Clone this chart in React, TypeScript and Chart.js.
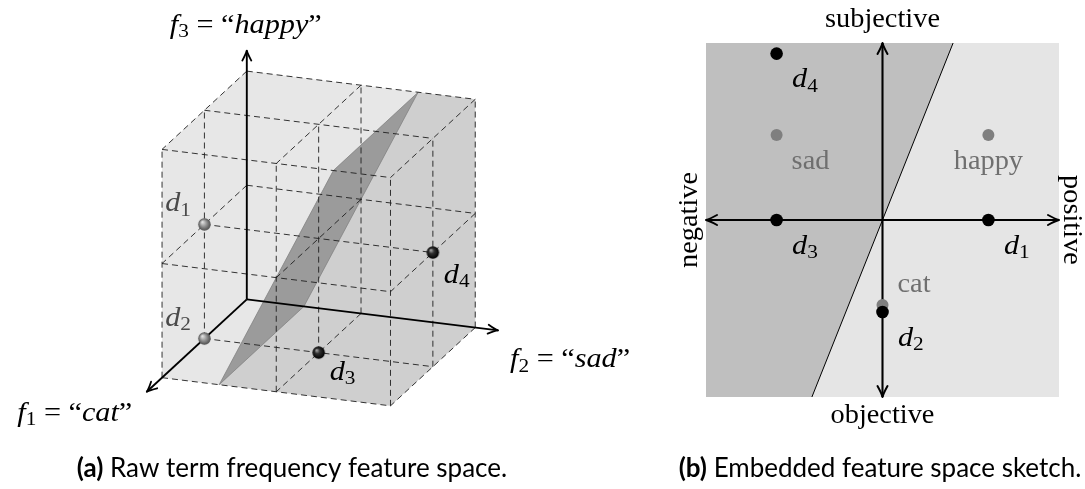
import React, { useEffect, useRef } from 'react';
import { Chart, registerables } from 'chart.js';

Chart.register(...registerables);

// ---------- (a) raw term-frequency space ----------
// documents as term counts: f1 = "cat", f2 = "sad", f3 = "happy"
const DOC_LABELS = ['1', '2', '3', '4'];
const DOC_CAT = [1, 1, 1, 1];
const DOC_SAD = [0, 0, 1, 2];
const DOC_HAPPY = [1, 0, 0, 1];
const DOC_SHADE = ['gray', 'gray', 'black', 'black'];

const CUBE_TICKS = [0, 1, 2];
const CUBE_MAX = 2;
const AXIS_CAT_END = 2.36;
const AXIS_SAD_END = 2.2;
const AXIS_HAPPY_END = 2.18;

// separating plane, corners as (cat, sad, happy)
const PLANE_CAT = [0, 2, 2, 0];
const PLANE_SAD = [0.5, 0.5, 1.5, 1.5];
const PLANE_HAPPY = [0, 0, 2, 2];

// ---------- (b) embedded space ----------
const WORD_LABELS = ['sad', 'happy', 'cat'];
const WORD_X = [-3, 3, 0];
const WORD_Y = [2.4, 2.4, -2.4];
const EMB_DOC_LABELS = ['1', '2', '3', '4'];
const EMB_DOC_X = [3, 0, -3, -3];
const EMB_DOC_Y = [0, -2.6, 0, 4.7];
const EMB_RANGE = 5;
const BOUNDARY_X = [-2, 2];
const BOUNDARY_Y = [-5, 5];

const SERIF = '"Liberation Serif", "Times New Roman", serif';
const SANS = 'Lato, "Open Sans", sans-serif';

// oblique view: screen offset (px, y up) of one unit along each term axis
const VIEW = { cat: [-43.3, -40.3], sad: [116.7, -14.5], happy: [0, 117.5] };
const proj = (c: number, s: number, h: number) => ({
  x: c * VIEW.cat[0] + s * VIEW.sad[0] + h * VIEW.happy[0],
  y: c * VIEW.cat[1] + s * VIEW.sad[1] + h * VIEW.happy[1],
});

type Run = [string, 'it' | 'rm' | 'sub' | 'bf'];

function runFont(kind: string, size: number, family: string) {
  if (kind === 'it') return `italic ${size}px ${family}`;
  if (kind === 'sub') return `${Math.round(size * 0.7)}px ${family}`;
  if (kind === 'bf') return `bold ${size}px ${family}`;
  return `${size}px ${family}`;
}

// draws a line of mixed italic / roman / subscript text, stretched horizontally by `wide`
function drawRuns(
  ctx: CanvasRenderingContext2D,
  runs: Run[],
  x: number,
  y: number,
  align: 'left' | 'center' | 'right',
  size: number,
  color: string,
  family = SERIF,
  wide = 1,
) {
  ctx.save();
  ctx.fillStyle = color;
  ctx.textBaseline = 'alphabetic';
  ctx.textAlign = 'left';
  const widths = runs.map(([t, k]) => {
    ctx.font = runFont(k, size, family);
    return ctx.measureText(t).width * wide;
  });
  const total = widths.reduce((a, b) => a + b, 0);
  let cx = align === 'center' ? x - total / 2 : align === 'right' ? x - total : x;
  runs.forEach(([t, k], i) => {
    ctx.font = runFont(k, size, family);
    ctx.save();
    ctx.translate(cx, k === 'sub' ? y + size * 0.17 : y);
    ctx.scale(wide, 1);
    ctx.fillText(t, 0, 0);
    ctx.restore();
    cx += widths[i];
  });
  ctx.restore();
}

function drawArrowHead(
  ctx: CanvasRenderingContext2D,
  tipX: number,
  tipY: number,
  fromX: number,
  fromY: number,
  len: number,
  half: number,
  lw: number,
) {
  const ang = Math.atan2(tipY - fromY, tipX - fromX);
  ctx.save();
  ctx.translate(tipX, tipY);
  ctx.rotate(ang);
  ctx.strokeStyle = '#000';
  ctx.lineWidth = lw;
  ctx.lineCap = 'round';
  ctx.lineJoin = 'round';
  ctx.beginPath();
  ctx.moveTo(-len, -half);
  ctx.quadraticCurveTo(-len * 0.35, -half * 0.2, 0, 0);
  ctx.quadraticCurveTo(-len * 0.35, half * 0.2, -len, half);
  ctx.stroke();
  ctx.restore();
}

function makeSphere(r: number, shade: string): HTMLCanvasElement {
  const size = Math.ceil(r * 2) + 2;
  const c = document.createElement('canvas');
  c.width = size;
  c.height = size;
  const g = c.getContext('2d')!;
  const m = size / 2;
  const grad = g.createRadialGradient(m - r * 0.35, m - r * 0.4, r * 0.05, m, m, r);
  if (shade === 'black') {
    grad.addColorStop(0, '#a8a8a8');
    grad.addColorStop(0.4, '#303030');
    grad.addColorStop(1, '#000000');
  } else {
    grad.addColorStop(0, '#e4e4e4');
    grad.addColorStop(0.5, '#959595');
    grad.addColorStop(1, '#4c4c4c');
  }
  g.fillStyle = grad;
  g.beginPath();
  g.arc(m, m, r, 0, Math.PI * 2);
  g.fill();
  return c;
}

function fillPoly(chart: any, pts: { x: number; y: number }[], fill: string, stroke?: string) {
  const { ctx, scales } = chart;
  ctx.save();
  ctx.beginPath();
  pts.forEach((p, i) => {
    const px = scales.x.getPixelForValue(p.x);
    const py = scales.y.getPixelForValue(p.y);
    if (i === 0) ctx.moveTo(px, py);
    else ctx.lineTo(px, py);
  });
  ctx.closePath();
  ctx.fillStyle = fill;
  ctx.fill();
  if (stroke) {
    ctx.strokeStyle = stroke;
    ctx.lineWidth = 0.7;
    ctx.stroke();
  }
  ctx.restore();
}

const segment = (a: { x: number; y: number }, b: { x: number; y: number }, extra: any) => ({
  data: [a, b],
  showLine: true,
  pointRadius: 0,
  ...extra,
});

const MATH = 27;
const MATH_WIDE = 1.12;
const WORD_WIDE = 1.05;

function buildRawConfig(): any {
  const origin = proj(0, 0, 0);
  const axisEnds = [
    proj(AXIS_CAT_END, 0, 0),
    proj(0, AXIS_SAD_END, 0),
    proj(0, 0, AXIS_HAPPY_END),
  ];
  const axisStyle = { borderColor: '#000', borderWidth: 1.9, order: 1 };
  const gridStyle = { borderColor: '#1e1e1e', borderWidth: 0.9, borderDash: [6, 4], order: 2 };
  const gridSets: any[] = [];
  for (const u of CUBE_TICKS) {
    for (const v of CUBE_TICKS) {
      if (u === 0 && v === 0) continue;
      gridSets.push(segment(proj(0, u, v), proj(CUBE_MAX, u, v), gridStyle));
      gridSets.push(segment(proj(u, 0, v), proj(u, CUBE_MAX, v), gridStyle));
      gridSets.push(segment(proj(u, v, 0), proj(u, v, CUBE_MAX), gridStyle));
    }
  }
  const spheres = DOC_SHADE.map((s) => makeSphere(6.2, s));
  const docPoints = DOC_CAT.map((c, i) => proj(c, DOC_SAD[i], DOC_HAPPY[i]));

  const plane = PLANE_CAT.map((c, i) => proj(c, PLANE_SAD[i], PLANE_HAPPY[i]));
  const M = CUBE_MAX;
  const cubeOutline = [proj(0, 0, M), proj(0, M, M), proj(0, M, 0), proj(M, M, 0), proj(M, 0, 0), proj(M, 0, M)];
  // part of the cube on the "sad" side of the plane
  const sadSide = [plane[1], proj(M, M, 0), proj(0, M, 0), proj(0, M, M), plane[3], plane[2]];

  const scene = {
    id: 'rawScene',
    beforeDatasetsDraw(chart: any) {
      fillPoly(chart, cubeOutline, '#e7e7e7');
      fillPoly(chart, sadSide, '#cfcfcf');
      fillPoly(chart, plane, '#9b9b9b', '#7c7c7c');
    },
    afterDatasetsDraw(chart: any) {
      const { ctx, scales } = chart;
      const px = (p: { x: number; y: number }) => ({ x: scales.x.getPixelForValue(p.x), y: scales.y.getPixelForValue(p.y) });
      const o = px(origin);
      const tips = axisEnds.map(px);
      tips.forEach((t) => drawArrowHead(ctx, t.x, t.y, o.x, o.y, 10, 4.5, 1.8));

      // axis names
      drawRuns(ctx, [['f', 'it'], ['1', 'sub'], [' = “', 'rm'], ['cat', 'it'], ['”', 'rm']], tips[0].x - 72, tips[0].y + 29, 'center', MATH, '#000', SERIF, MATH_WIDE);
      drawRuns(ctx, [['f', 'it'], ['2', 'sub'], [' = “', 'rm'], ['sad', 'it'], ['”', 'rm']], tips[1].x + 72, tips[1].y + 37, 'center', MATH, '#000', SERIF, MATH_WIDE);
      drawRuns(ctx, [['f', 'it'], ['3', 'sub'], [' = “', 'rm'], ['happy', 'it'], ['”', 'rm']], tips[2].x - 1, tips[2].y - 18, 'center', MATH, '#000', SERIF, MATH_WIDE);

      // document names
      const meta = chart.getDatasetMeta(0);
      const place = [
        { dx: -13.5, dy: -13, align: 'right', color: '#4a4a4a' },
        { dx: -13.5, dy: -13, align: 'right', color: '#4a4a4a' },
        { dx: 11, dy: 27, align: 'left', color: '#000' },
        { dx: 11, dy: 30, align: 'left', color: '#000' },
      ];
      DOC_LABELS.forEach((lab, i) => {
        const el = meta.data[i];
        const p = place[i];
        drawRuns(ctx, [['d', 'it'], [lab, 'sub']], el.x + p.dx, el.y + p.dy, p.align as any, MATH, p.color, SERIF, MATH_WIDE);
      });

      drawRuns(ctx, [['(a)', 'bf'], [' Raw term frequency feature space.', 'rm']], 292, 477, 'center', 26, '#000', SANS);
    },
  };

  return {
    type: 'scatter',
    data: {
      datasets: [
        {
          data: docPoints,
          pointStyle: spheres,
          pointRadius: 6,
          order: 0,
        },
        ...axisEnds.map((e) => segment(origin, e, axisStyle)),
        ...gridSets,
      ],
    },
    options: {
      animation: false,
      responsive: false,
      events: [],
      layout: { padding: 0 },
      scales: {
        x: { type: 'linear', min: -245, max: 415, display: false },
        y: { type: 'linear', min: -188, max: 301, display: false },
      },
      plugins: { legend: { display: false }, tooltip: { enabled: false } },
    },
    plugins: [scene],
  };
}

function buildEmbeddedConfig(): any {
  const R = EMB_RANGE;
  const scene = {
    id: 'embScene',
    beforeDatasetsDraw(chart: any) {
      fillPoly(chart, [{ x: -R, y: -R }, { x: R, y: -R }, { x: R, y: R }, { x: -R, y: R }], '#e5e5e5');
      fillPoly(
        chart,
        [{ x: -R, y: -R }, { x: BOUNDARY_X[0], y: BOUNDARY_Y[0] }, { x: BOUNDARY_X[1], y: BOUNDARY_Y[1] }, { x: -R, y: R }],
        '#bfbfbf',
      );
    },
    afterDatasetsDraw(chart: any) {
      const { ctx, scales, chartArea } = chart;
      const X = (v: number) => scales.x.getPixelForValue(v);
      const Y = (v: number) => scales.y.getPixelForValue(v);
      const cx = X(0);
      const cy = Y(0);
      drawArrowHead(ctx, X(R), cy, cx, cy, 11, 5, 2);
      drawArrowHead(ctx, X(-R), cy, cx, cy, 11, 5, 2);
      drawArrowHead(ctx, cx, Y(R), cx, cy, 11, 5, 2);
      drawArrowHead(ctx, cx, Y(-R), cx, cy, 11, 5, 2);

      // axis names
      drawRuns(ctx, [['subjective', 'rm']], cx, chartArea.top - 16, 'center', MATH, '#000', SERIF, WORD_WIDE);
      drawRuns(ctx, [['objective', 'rm']], cx, chartArea.bottom + 26, 'center', MATH, '#000', SERIF, WORD_WIDE);
      ctx.save();
      ctx.translate(chartArea.left - 9, cy);
      ctx.rotate(-Math.PI / 2);
      drawRuns(ctx, [['negative', 'rm']], 0, 0, 'center', MATH, '#000', SERIF, WORD_WIDE);
      ctx.restore();
      ctx.save();
      ctx.translate(chartArea.right + 5, cy);
      ctx.rotate(Math.PI / 2);
      drawRuns(ctx, [['positive', 'rm']], 0, 0, 'center', MATH, '#000', SERIF, WORD_WIDE);
      ctx.restore();

      // word anchors
      const words = chart.getDatasetMeta(3);
      WORD_LABELS.forEach((w, i) => {
        const el = words.data[i];
        if (w === 'happy') drawRuns(ctx, [[w, 'rm']], el.x, el.y + 34, 'center', MATH, '#6f6f6f', SERIF, WORD_WIDE);
        else if (w === 'cat') drawRuns(ctx, [[w, 'rm']], el.x + 15, el.y - 13, 'left', MATH, '#6f6f6f', SERIF, WORD_WIDE);
        else drawRuns(ctx, [[w, 'rm']], el.x + 15, el.y + 34, 'left', MATH, '#6f6f6f', SERIF, WORD_WIDE);
      });

      // documents
      const docs = chart.getDatasetMeta(4);
      EMB_DOC_LABELS.forEach((lab, i) => {
        const el = docs.data[i];
        drawRuns(ctx, [['d', 'it'], [lab, 'sub']], el.x + 15.5, el.y + 33.5, 'left', MATH, '#000', SERIF, MATH_WIDE);
      });

      drawRuns(ctx, [['(b)', 'bf'], [' Embedded feature space sketch.', 'rm']], 220, 477, 'center', 26, '#000', SANS);
    },
  };

  return {
    type: 'scatter',
    data: {
      datasets: [
        segment({ x: BOUNDARY_X[0], y: BOUNDARY_Y[0] }, { x: BOUNDARY_X[1], y: BOUNDARY_Y[1] }, { borderColor: '#000', borderWidth: 1, order: 3 }),
        segment({ x: -R, y: 0 }, { x: R, y: 0 }, { borderColor: '#000', borderWidth: 2.1, order: 2 }),
        segment({ x: 0, y: -R }, { x: 0, y: R }, { borderColor: '#000', borderWidth: 2.1, order: 2 }),
        {
          data: WORD_X.map((x, i) => ({ x, y: WORD_Y[i] })),
          pointRadius: 6,
          backgroundColor: '#7f7f7f',
          borderWidth: 0,
          order: 1,
        },
        {
          data: EMB_DOC_X.map((x, i) => ({ x, y: EMB_DOC_Y[i] })),
          pointRadius: 6.3,
          backgroundColor: '#000',
          borderWidth: 0,
          order: 0,
        },
      ],
    },
    options: {
      animation: false,
      responsive: false,
      events: [],
      layout: { padding: { left: 46, right: 26, top: 43, bottom: 92 } },
      scales: {
        x: { type: 'linear', min: -R, max: R, display: false },
        y: { type: 'linear', min: -R, max: R, display: false },
      },
      plugins: { legend: { display: false }, tooltip: { enabled: false } },
    },
    plugins: [scene],
  };
}

export default function App() {
  const leftRef = useRef<HTMLCanvasElement>(null);
  const rightRef = useRef<HTMLCanvasElement>(null);

  useEffect(() => {
    const raw = new Chart(leftRef.current!, buildRawConfig());
    const emb = new Chart(rightRef.current!, buildEmbeddedConfig());
    return () => {
      raw.destroy();
      emb.destroy();
    };
  }, []);

  return (
    <div style={{ position: 'absolute', left: 0, top: 0, width: 1085, height: 489, background: '#fff', overflow: 'hidden' }}>
      <canvas
        ref={leftRef}
        width={660}
        height={489}
        style={{ position: 'absolute', left: 0, top: 0, width: 660, height: 489 }}
      />
      <canvas
        ref={rightRef}
        width={425}
        height={489}
        style={{ position: 'absolute', left: 660, top: 0, width: 425, height: 489 }}
      />
    </div>
  );
}
